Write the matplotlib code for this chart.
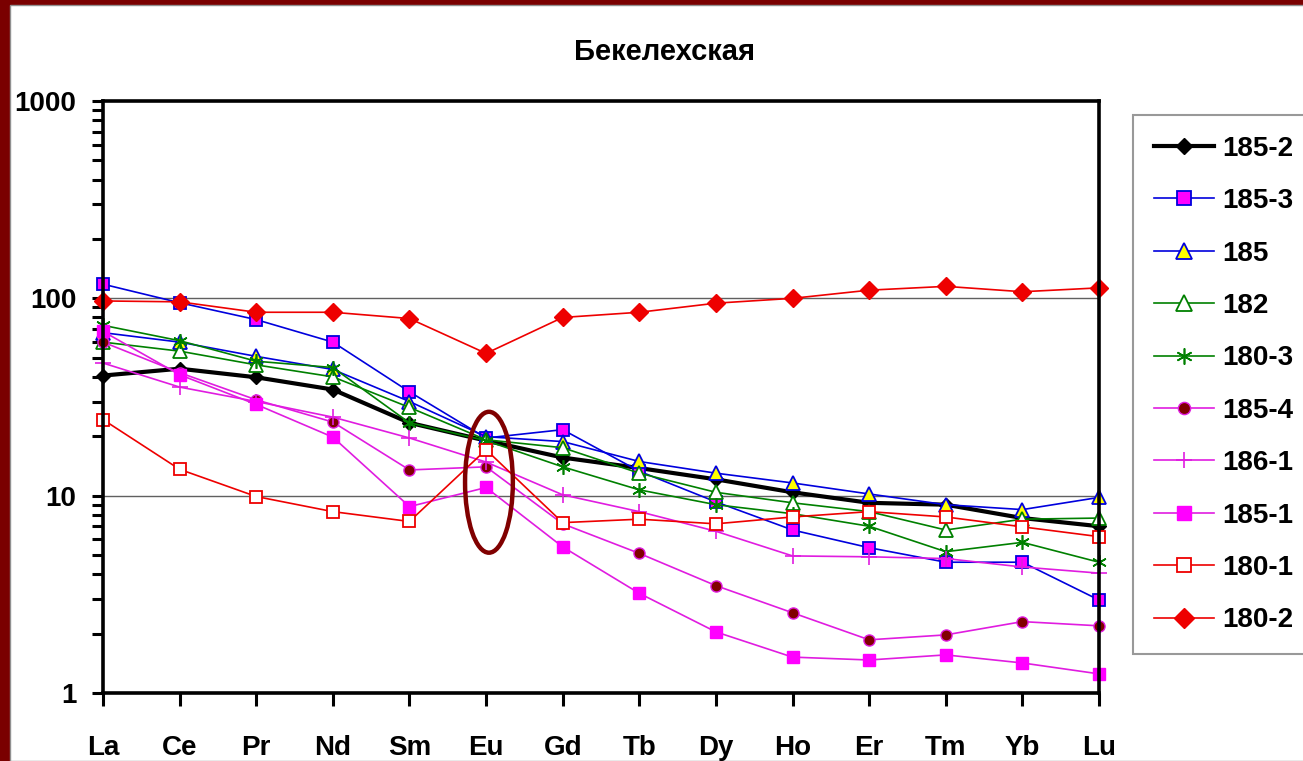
import matplotlib.pyplot as plt
from matplotlib.patches import Ellipse, Rectangle
from matplotlib.ticker import LogLocator, NullFormatter, FixedLocator
import numpy as np

plt.rcParams['font.family'] = ['Liberation Sans', 'DejaVu Sans']
plt.rcParams['font.weight'] = 'bold'

# REE elements on the x axis
elements = ['La', 'Ce', 'Pr', 'Nd', 'Sm', 'Eu', 'Gd', 'Tb', 'Dy', 'Ho', 'Er', 'Tm', 'Yb', 'Lu']

# chondrite-normalised values
s185_2 = [40.6, 44, 39.8, 34.5, 23.4, 19, 15.6, 13.8, 12.1, 10.4, 9.2, 9.0, 7.7, 7.0]
s185_3 = [118, 95, 78, 60, 33.6, 19.6, 21.6, 13.3, 9.3, 6.7, 5.45, 4.6, 4.6, 2.96]
s185 = [67, 60, 50.8, 43.6, 30, 19.9, 18.8, 14.9, 13.0, 11.6, 10.2, 9.0, 8.5, 9.8]
s182 = [60, 54, 46, 40, 28, 19.2, 17.5, 13.0, 10.4, 9.2, 8.3, 6.7, 7.6, 7.7]
s180_3 = [73, 61, 48, 44.6, 23.4, 19, 14, 10.7, 9.0, 8.1, 7.0, 5.2, 5.8, 4.6]
s185_4 = [60, 42, 30.6, 23.6, 13.5, 14, 7.2, 5.1, 3.5, 2.55, 1.86, 1.97, 2.3, 2.19]
s186_1 = [47, 35.5, 30, 25, 19.6, 14.8, 10.1, 8.3, 6.6, 4.95, 4.9, 4.8, 4.35, 4.05]
s185_1 = [68, 41, 29, 19.8, 8.8, 11, 5.5, 3.2, 2.04, 1.52, 1.47, 1.56, 1.42, 1.25]
s180_1 = [24.3, 13.6, 9.9, 8.3, 7.4, 17.1, 7.3, 7.6, 7.2, 7.8, 8.3, 7.8, 6.95, 6.2]
s180_2 = [97, 96, 85, 85, 79, 52.6, 80, 85, 94.5, 100, 110, 115, 108, 113]

x = np.arange(len(elements))
magenta_line = '#E01CE0'

fig = plt.figure(figsize=(13.03, 7.61), dpi=100)
fig.patch.set_facecolor('#7A0000')
fig.patches.append(Rectangle((10 / 1303, 0), 1, 1 - 5 / 761, transform=fig.transFigure,
                             facecolor='white', edgecolor='#909090', lw=1, zorder=-10))

ax = fig.add_axes([103 / 1303, 68 / 761, 996 / 1303, 592 / 761])
ax.set_facecolor('none')
ax.set_zorder(1)

common = dict(clip_on=False)
ax.plot(x, s185_2, color='black', lw=3, marker='D', ms=7, mfc='black', mec='black', label='185-2', **common)
ax.plot(x, s185_3, color='#0000DD', lw=1.2, marker='s', ms=9, mfc='#FF00FF', mec='#0000DD', mew=1.3, label='185-3', **common)
ax.plot(x, s185, color='#0000DD', lw=1.2, marker='^', ms=10, mfc='#FFFF00', mec='#0000DD', mew=1.3, label='185', **common)
ax.plot(x, s182, color='#008000', lw=1.2, marker='^', ms=10, mfc='white', mec='#008000', mew=1.3, label='182', **common)
ax.plot(x, s180_3, color='#008000', lw=1.2, marker=(6, 2, 0), ms=10.5, mec='#008000', mew=1.2, label='180-3', **common)
ax.plot(x, s185_4, color=magenta_line, lw=1.2, marker='o', ms=8, mfc='#800000', mec=magenta_line, mew=1, label='185-4', **common)
ax.plot(x, s186_1, color=magenta_line, lw=1.2, marker='+', ms=11, mec=magenta_line, mew=1.2, label='186-1', **common)
ax.plot(x, s185_1, color=magenta_line, lw=1.2, marker='s', ms=9, mfc='#FF00FF', mec='#FF00FF', label='185-1', **common)
ax.plot(x, s180_1, color='#EE0000', lw=1.2, marker='s', ms=9, mfc='white', mec='#EE0000', mew=1.3, label='180-1', **common)
ax.plot(x, s180_2, color='#EE0000', lw=1.2, marker='D', ms=9, mfc='#EE0000', mec='#EE0000', label='180-2', **common)

ax.set_yscale('log')
ax.set_ylim(1, 1000)
ax.set_xlim(0, len(elements) - 1)
ax.set_xticks(x)
ax.set_xticklabels(elements)
ax.yaxis.set_major_locator(FixedLocator([1, 10, 100, 1000]))
ax.set_yticklabels(['1', '10', '100', '1000'])
ax.yaxis.set_minor_locator(LogLocator(base=10, subs=np.arange(2, 10)))
ax.yaxis.set_minor_formatter(NullFormatter())

for h in [10, 100]:
    ax.axhline(h, color='#606060', lw=1, zorder=0.5)

for s in ax.spines.values():
    s.set_linewidth(2.6)
    s.set_color('black')

ax.tick_params(axis='y', which='both', direction='out', length=8, width=2.2, labelsize=20, pad=11)
ax.tick_params(axis='x', which='major', direction='out', length=9, width=2.2, labelsize=20, pad=21)

# highlight of the Eu anomaly
ax.add_patch(Ellipse((0.3875, 0.356), 0.048, 0.238, transform=ax.transAxes,
                     fill=False, edgecolor='#800000', lw=3.2, zorder=5, clip_on=False))

fig.text(665 / 1303, 1 - 52 / 761, 'Бекелехская', ha='center', va='center', fontsize=21, fontweight='bold')

leg = fig.legend(loc='upper left', bbox_to_anchor=(1133 / 1303, 1 - 115 / 761),
                 fontsize=20, frameon=True, fancybox=False, edgecolor='#808080',
                 labelspacing=0.95, handlelength=2.15, handletextpad=0.3, borderpad=0.75,
                 borderaxespad=0, markerscale=1.1)
leg.get_frame().set_linewidth(1.5)

fig.savefig('out.png', dpi=100, facecolor=fig.get_facecolor())
